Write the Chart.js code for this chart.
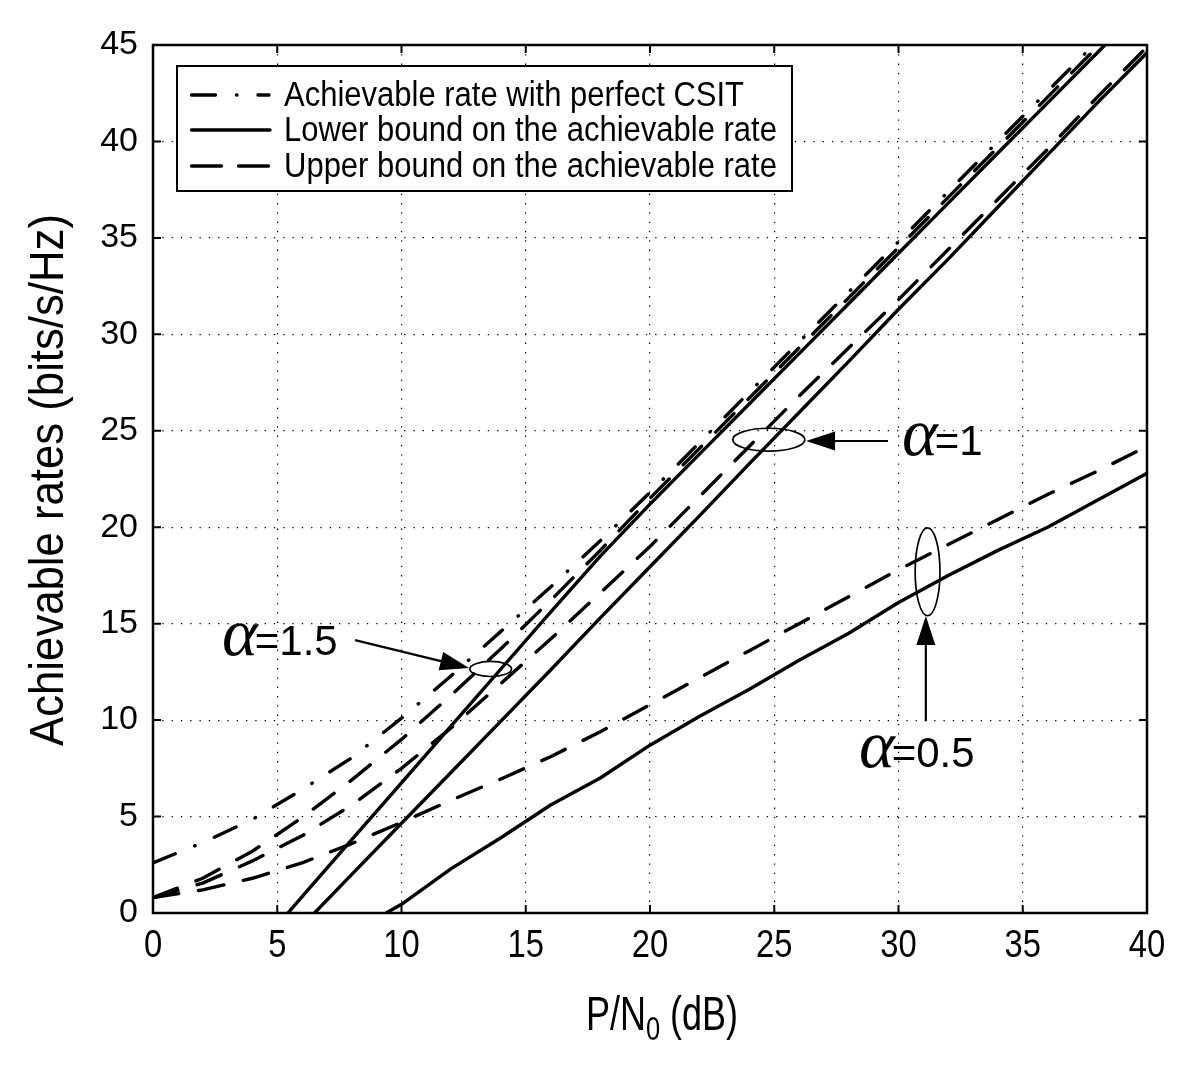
<!DOCTYPE html>
<html>
<head>
<meta charset="utf-8">
<script src="https://cdn.jsdelivr.net/npm/chart.js@4.4.1/dist/chart.umd.min.js"></script>
<style>
html,body{margin:0;padding:0;background:#fff;}
#wrap{width:1200px;height:1074px;position:relative;}
</style>
</head>
<body>
<div id="wrap"><canvas id="c" width="1200" height="1074"></canvas></div>
<script>
// ---- data ----
const xTickLabels = [0, 5, 10, 15, 20, 25, 30, 35, 40];
const yTickLabels = [0, 5, 10, 15, 20, 25, 30, 35, 40, 45];

const snrGrid = [0, 2, 4, 6, 8, 10, 12, 14, 16, 18, 20, 22, 24, 26, 28, 30, 32, 34, 36, 38, 40];
const csitRate = [2.6, 3.65, 4.85, 6.4, 8.05, 10.1, 12.3, 14.6, 16.9, 19.3, 21.8, 24.4, 27.0, 29.6, 32.2, 34.8, 37.4, 40.0, 42.6, 45.2, 47.8];
const upperA15 = [0.8, 1.8, 3.2, 4.95, 6.9, 9.0, 11.3, 13.7, 16.2, 18.8, 21.5, 24.1, 26.7, 29.3, 31.9, 34.5, 37.1, 39.7, 42.3, 44.9, 47.5];
const upperA10 = [0.8, 1.55, 2.7, 4.0, 5.6, 7.5, 9.6, 11.9, 14.2, 16.6, 19.0, 21.6, 24.2, 26.8, 29.3, 31.8, 34.4, 37.0, 39.6, 42.3, 44.9];
const upperA05 = [0.8, 1.2, 1.8, 2.6, 3.6, 4.7, 5.85, 6.95, 8.1, 9.4, 10.8, 12.2, 13.6, 15.0, 16.4, 17.8, 19.1, 20.4, 21.7, 22.9, 24.2];

const lowerA15Snr = [5.43, 6, 8, 10, 12, 14, 16, 18, 20, 22, 24, 26, 28, 30, 32, 34, 36, 38, 40];
const lowerA15 = [0, 0.85, 3.8, 6.75, 9.7, 12.65, 15.6, 18.5, 21.2, 23.8, 26.4, 29.0, 31.6, 34.2, 36.8, 39.4, 42.0, 44.6, 47.2];
const lowerA10Snr = [6.5, 8, 10, 12, 14, 16, 18, 20, 22, 24, 26, 28, 30, 32, 34, 36, 38, 40];
const lowerA10 = [0, 2.0, 4.65, 7.3, 9.95, 12.6, 15.3, 17.95, 20.6, 23.3, 25.95, 28.6, 31.3, 33.9, 36.6, 39.3, 42.0, 44.6];
const lowerA05Snr = [9.38, 10, 12, 14, 16, 18, 20, 22, 24, 26, 28, 30, 32, 34, 36, 38, 40];
const lowerA05 = [0, 0.45, 2.3, 3.9, 5.6, 7.0, 8.7, 10.2, 11.6, 13.1, 14.5, 16.1, 17.5, 18.8, 20.0, 21.4, 22.8];

const legendLabels = ['Achievable rate with perfect CSIT', 'Lower bound on the achievable rate', 'Upper bound on the achievable rate'];
const alphaLabels = ['=1.5', '=1', '=0.5'];

// ---- styles ----
const DASHDOT = [24, 21, 0.5, 21];
const DASHED = [26, 20];
const SANS = '"Liberation Sans", Arial, sans-serif';

function pts(xs, ys) { return xs.map((x, i) => ({ x: x, y: ys[i] })); }
function lineDs(label, data, dash) {
  return {
    label: label, data: data, borderColor: '#000', backgroundColor: '#000',
    borderWidth: 3.4, borderDash: dash, borderCapStyle: 'round', borderJoinStyle: 'round',
    pointRadius: 0, fill: false, tension: 0, clip: 0
  };
}

// annotation geometry (in data units)
const notes = {
  ellipses: [
    { x: 13.59, y: 12.65, rx: 0.84, ry: 0.39 },
    { x: 24.78, y: 24.54, rx: 1.45, ry: 0.59 },
    { x: 31.17, y: 17.69, rx: 0.50, ry: 2.28 }
  ],
  arrows: [
    { x1: 8.13, y1: 14.15, x2: 12.72, y2: 12.70 },
    { x1: 29.58, y1: 24.47, x2: 26.28, y2: 24.47 },
    { x1: 31.1, y1: 9.95, x2: 31.1, y2: 15.4 }
  ],
  labels: [
    { x: 2.78, y: 13.37 },
    { x: 30.14, y: 23.74 },
    { x: 28.41, y: 7.57 }
  ]
};

const decor = {
  id: 'decor',
  afterDatasetsDraw(chart) {
    const ctx = chart.ctx, xs = chart.scales.x, ys = chart.scales.y;
    const px = v => xs.getPixelForValue(v), py = v => ys.getPixelForValue(v);
    ctx.save();
    ctx.strokeStyle = '#000'; ctx.fillStyle = '#000';
    // ellipses
    ctx.lineWidth = 1.7;
    notes.ellipses.forEach(e => {
      const cx = px(e.x), cy = py(e.y);
      const rx = Math.abs(px(e.x + e.rx) - cx), ry = Math.abs(py(e.y + e.ry) - cy);
      ctx.beginPath(); ctx.ellipse(cx, cy, rx, ry, 0, 0, Math.PI * 2); ctx.stroke();
    });
    // arrows
    notes.arrows.forEach(a => {
      const x1 = px(a.x1), y1 = py(a.y1), x2 = px(a.x2), y2 = py(a.y2);
      const ang = Math.atan2(y2 - y1, x2 - x1), L = 29, W = 9.5;
      const bx = x2 - L * Math.cos(ang), by = y2 - L * Math.sin(ang);
      ctx.lineWidth = 2.2;
      ctx.beginPath(); ctx.moveTo(x1, y1); ctx.lineTo(bx, by); ctx.stroke();
      ctx.beginPath(); ctx.moveTo(x2, y2);
      ctx.lineTo(bx + W * Math.sin(ang), by - W * Math.cos(ang));
      ctx.lineTo(bx - W * Math.sin(ang), by + W * Math.cos(ang));
      ctx.closePath(); ctx.fill();
    });
    // alpha labels
    ctx.textBaseline = 'alphabetic'; ctx.textAlign = 'left';
    notes.labels.forEach((l, i) => {
      const x = px(l.x), y = py(l.y);
      ctx.font = 'italic 68px "Liberation Serif", "Times New Roman", serif';
      ctx.fillText('\u03B1', x, y);
      const w = ctx.measureText('\u03B1').width;
      ctx.font = '42px ' + SANS;
      ctx.fillText(alphaLabels[i], x + w - 3, y);
    });
    ctx.restore();
  },
  afterDraw(chart) {
    const ctx = chart.ctx, a = chart.chartArea, xs = chart.scales.x, ys = chart.scales.y;
    ctx.save();
    ctx.strokeStyle = '#000'; ctx.fillStyle = '#000';
    // inner tick marks
    ctx.lineWidth = 2;
    const tl = 8;
    xTickLabels.forEach(v => {
      const x = xs.getPixelForValue(v);
      ctx.beginPath();
      ctx.moveTo(x, a.bottom); ctx.lineTo(x, a.bottom - tl);
      ctx.moveTo(x, a.top); ctx.lineTo(x, a.top + tl);
      ctx.stroke();
    });
    yTickLabels.forEach(v => {
      const y = ys.getPixelForValue(v);
      ctx.beginPath();
      ctx.moveTo(a.left, y); ctx.lineTo(a.left + tl, y);
      ctx.moveTo(a.right, y); ctx.lineTo(a.right - tl, y);
      ctx.stroke();
    });
    // frame
    ctx.lineWidth = 2.5;
    ctx.strokeRect(a.left, a.top, a.right - a.left, a.bottom - a.top);

    // x tick labels (condensed, as in the reference)
    ctx.textAlign = 'center'; ctx.textBaseline = 'alphabetic';
    ctx.font = '39px ' + SANS;
    xTickLabels.forEach(v => {
      ctx.save();
      ctx.translate(xs.getPixelForValue(v), a.bottom + 44);
      ctx.scale(0.84, 1);
      ctx.fillText(String(v), 0, 0);
      ctx.restore();
    });

    // legend
    const bx = 177, by = 66, bw = 615, bh = 125;
    ctx.fillStyle = '#fff';
    ctx.fillRect(bx, by, bw, bh);
    ctx.lineWidth = 2;
    ctx.strokeStyle = '#000';
    ctx.strokeRect(bx, by, bw, bh);
    const rows = [95, 130, 166];
    const dashes = [DASHDOT, [], [30, 17]];
    ctx.lineCap = 'round';
    rows.forEach((ry, i) => {
      ctx.lineWidth = 3.4;
      ctx.setLineDash(dashes[i]);
      ctx.beginPath(); ctx.moveTo(191.5, ry); ctx.lineTo(i === 1 ? 270 : 269, ry); ctx.stroke();
      ctx.setLineDash([]);
      ctx.fillStyle = '#000';
      ctx.font = '31px ' + SANS;
      ctx.textBaseline = 'middle'; ctx.textAlign = 'left';
      ctx.save();
      ctx.translate(284, ry + 1);
      ctx.scale(1.0, 1.12);
      ctx.fillText(legendLabels[i], 0, 0);
      ctx.restore();
    });

    // axis titles
    ctx.fillStyle = '#000';
    // x title: P/N0 (dB), condensed
    ctx.save();
    ctx.translate(662, 1030);
    ctx.scale(0.75, 1);
    ctx.textBaseline = 'alphabetic';
    const p1 = 'P/N', sub = '0', p2 = ' (dB)';
    ctx.font = '48px ' + SANS;
    const w1 = ctx.measureText(p1).width, w3 = ctx.measureText(p2).width;
    ctx.font = '34px ' + SANS;
    const w2 = ctx.measureText(sub).width;
    const total = w1 + w2 + w3;
    let cx = -total / 2;
    ctx.textAlign = 'left';
    ctx.font = '48px ' + SANS; ctx.fillText(p1, cx, 0); cx += w1;
    ctx.font = '34px ' + SANS; ctx.fillText(sub, cx, 10); cx += w2;
    ctx.font = '48px ' + SANS; ctx.fillText(p2, cx, 0);
    ctx.restore();
    // y title
    ctx.save();
    ctx.translate(50, 480);
    ctx.rotate(-Math.PI / 2);
    ctx.scale(0.95, 1.04);
    ctx.font = '46px ' + SANS;
    ctx.textAlign = 'center'; ctx.textBaseline = 'middle';
    ctx.fillText('Achievable rates (bits/s/Hz)', 0, 0);
    ctx.restore();
    ctx.restore();
  }
};

const gridCommon = { color: '#000', lineWidth: 1.2, drawTicks: false };
new Chart(document.getElementById('c'), {
  type: 'line',
  data: {
    datasets: [
      lineDs('Achievable rate with perfect CSIT', pts(snrGrid, csitRate), DASHDOT),
      lineDs('Upper bound, alpha=1.5', pts(snrGrid, upperA15), DASHED),
      lineDs('Upper bound, alpha=1', pts(snrGrid, upperA10), DASHED),
      lineDs('Upper bound, alpha=0.5', pts(snrGrid, upperA05), DASHED),
      lineDs('Lower bound, alpha=1.5', pts(lowerA15Snr, lowerA15), []),
      lineDs('Lower bound, alpha=1', pts(lowerA10Snr, lowerA10), []),
      lineDs('Lower bound, alpha=0.5', pts(lowerA05Snr, lowerA05), [])
    ]
  },
  options: {
    responsive: false,
    devicePixelRatio: 1,
    animation: false,
    layout: { padding: { top: 45, right: 53, left: 0, bottom: 0 } },
    plugins: { legend: { display: false }, tooltip: { enabled: false } },
    scales: {
      x: {
        type: 'linear', min: 0, max: 40,
        afterBuildTicks: s => { s.ticks = xTickLabels.map(v => ({ value: v })); },
        afterFit: s => { s.height = 161; },
        grid: gridCommon,
        border: { display: false, dash: [1.3, 8] },
        ticks: { display: false }
      },
      y: {
        type: 'linear', min: 0, max: 45,
        afterBuildTicks: s => { s.ticks = yTickLabels.map(v => ({ value: v })); },
        afterFit: s => { s.width = 153; },
        grid: gridCommon,
        border: { display: false, dash: [1.3, 8] },
        ticks: { color: '#000', padding: 15, font: { family: SANS, size: 34 } }
      }
    }
  },
  plugins: [decor]
});
</script>
</body>
</html>
